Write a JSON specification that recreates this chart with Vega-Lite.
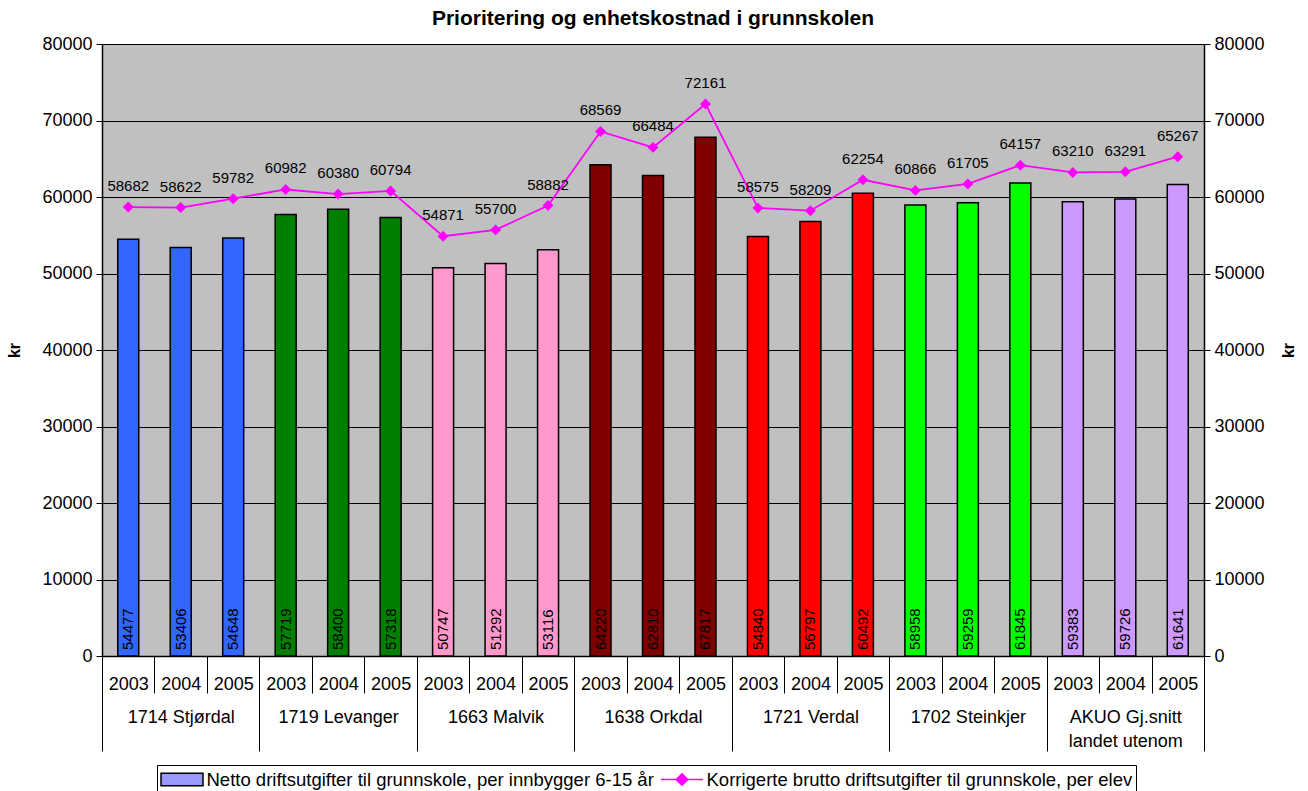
{
  "$schema": "https://vega.github.io/schema/vega-lite/v6.json",
  "autosize": "none",
  "width": 1102,
  "height": 612,
  "padding": {"left": 102, "top": 44, "right": 104, "bottom": 135},
  "background": "white",
  "config": {
    "font": "Liberation Sans",
    "view": {"fill": "#C0C0C0", "stroke": "#808080", "strokeWidth": 1}
  },
  "title": {
    "text": "Prioritering og enhetskostnad i grunnskolen",
    "fontSize": 21,
    "fontWeight": "bold",
    "font": "Liberation Sans",
    "color": "#000000",
    "offset": 6,
    "anchor": "middle"
  },
  "datasets": {
    "main": [
      {"group": "1714 Stjørdal", "year": "2003", "key": "1714 Stjørdal|2003", "netto": 54477, "brutto": 58682},
      {"group": "1714 Stjørdal", "year": "2004", "key": "1714 Stjørdal|2004", "netto": 53406, "brutto": 58622},
      {"group": "1714 Stjørdal", "year": "2005", "key": "1714 Stjørdal|2005", "netto": 54648, "brutto": 59782},
      {"group": "1719 Levanger", "year": "2003", "key": "1719 Levanger|2003", "netto": 57719, "brutto": 60982},
      {"group": "1719 Levanger", "year": "2004", "key": "1719 Levanger|2004", "netto": 58400, "brutto": 60380},
      {"group": "1719 Levanger", "year": "2005", "key": "1719 Levanger|2005", "netto": 57318, "brutto": 60794},
      {"group": "1663 Malvik", "year": "2003", "key": "1663 Malvik|2003", "netto": 50747, "brutto": 54871},
      {"group": "1663 Malvik", "year": "2004", "key": "1663 Malvik|2004", "netto": 51292, "brutto": 55700},
      {"group": "1663 Malvik", "year": "2005", "key": "1663 Malvik|2005", "netto": 53116, "brutto": 58882},
      {"group": "1638 Orkdal", "year": "2003", "key": "1638 Orkdal|2003", "netto": 64220, "brutto": 68569},
      {"group": "1638 Orkdal", "year": "2004", "key": "1638 Orkdal|2004", "netto": 62810, "brutto": 66484},
      {"group": "1638 Orkdal", "year": "2005", "key": "1638 Orkdal|2005", "netto": 67817, "brutto": 72161},
      {"group": "1721 Verdal", "year": "2003", "key": "1721 Verdal|2003", "netto": 54840, "brutto": 58575},
      {"group": "1721 Verdal", "year": "2004", "key": "1721 Verdal|2004", "netto": 56797, "brutto": 58209},
      {"group": "1721 Verdal", "year": "2005", "key": "1721 Verdal|2005", "netto": 60492, "brutto": 62254},
      {"group": "1702 Steinkjer", "year": "2003", "key": "1702 Steinkjer|2003", "netto": 58958, "brutto": 60866},
      {"group": "1702 Steinkjer", "year": "2004", "key": "1702 Steinkjer|2004", "netto": 59259, "brutto": 61705},
      {"group": "1702 Steinkjer", "year": "2005", "key": "1702 Steinkjer|2005", "netto": 61845, "brutto": 64157},
      {"group": "AKUO Gj.snitt|landet utenom", "year": "2003", "key": "AKUO|2003", "netto": 59383, "brutto": 63210},
      {"group": "AKUO Gj.snitt|landet utenom", "year": "2004", "key": "AKUO|2004", "netto": 59726, "brutto": 63291},
      {"group": "AKUO Gj.snitt|landet utenom", "year": "2005", "key": "AKUO|2005", "netto": 61641, "brutto": 65267}
    ]
  },
  "data": {"name": "main"},
  "resolve": {"scale": {"x": "independent", "y": "independent"}},
  "layer": [
    {
      "encoding": {
        "x": {
          "field": "key",
          "type": "nominal",
          "sort": null,
          "scale": {"paddingInner": 0, "paddingOuter": 0},
          "axis": {
            "orient": "bottom",
            "title": null,
            "labelExpr": "split(datum.label, '|')[1]",
            "labelAngle": 0,
            "labelFontSize": 18,
            "labelColor": "#000000",
            "labelPadding": -18,
            "labelOverlap": false,
            "labelBound": false,
            "tickBand": "extent",
            "tickSize": 37,
            "tickColor": "#000000",
            "tickWidth": 1,
            "domainColor": "#000000",
            "domainWidth": 1.5,
            "grid": false
          }
        }
      },
      "layer": [
        {
          "mark": {"type": "bar", "width": {"band": 0.4}, "stroke": "#000000", "strokeWidth": 1.5},
          "encoding": {
            "y": {
              "field": "netto",
              "type": "quantitative",
              "scale": {"domain": [0, 80000], "nice": false},
              "axis": {
                "orient": "left",
                "values": [0, 10000, 20000, 30000, 40000, 50000, 60000, 70000, 80000],
                "format": "d",
                "labelFontSize": 18,
                "labelColor": "#000000",
                "labelPadding": 4,
                "tickSize": 6,
                "tickColor": "#000000",
                "domainColor": "#000000",
                "domainWidth": 1.5,
                "grid": true,
                "gridColor": "#000000",
                "gridWidth": 1,
                "title": "kr",
                "titleFontSize": 16,
                "titleFontWeight": "bold",
                "titleColor": "#000000",
                "titleAngle": 270,
                "titleX": -88,
                "titleY": 306,
                "titleAlign": "center",
                "titleBaseline": "middle"
              }
            },
            "fill": {
              "field": "group",
              "type": "nominal",
              "sort": null,
              "scale": {"range": ["#3366FF", "#008000", "#FF99CC", "#800000", "#FF0000", "#00FF00", "#CC99FF"]},
              "legend": null
            }
          }
        },
        {
          "mark": {"type": "text", "angle": 270, "align": "left", "baseline": "middle", "dx": 6, "fontSize": 15, "color": "#000000"},
          "encoding": {
            "y": {"datum": 0, "type": "quantitative"},
            "text": {"field": "netto", "type": "quantitative", "format": "d"}
          }
        },
        {
          "mark": {"type": "line", "strokeWidth": 1.8},
          "encoding": {
            "y": {"field": "brutto", "type": "quantitative"},
            "color": {
              "datum": "Korrigerte brutto driftsutgifter til grunnskole, per elev",
              "type": "nominal",
              "scale": {
                "domain": ["Netto driftsutgifter til grunnskole, per innbygger 6-15 år", "Korrigerte brutto driftsutgifter til grunnskole, per elev"],
                "range": ["#000000", "#FF00FF"]
              },
              "legend": {
                "title": null,
                "orient": "none",
                "legendX": 55,
                "legendY": 721,
                "direction": "horizontal",
                "columns": 2,
                "columnPadding": 4,
                "labelFontSize": 18.5,
                "labelColor": "#000000",
                "labelLimit": 700,
                "labelOffset": 13,
                "symbolOffset": 10.5,
                "strokeColor": "#000000",
                "fillColor": "#FFFFFF",
                "padding": 3,
                "symbolSize": 441,
                "symbolStrokeWidth": 1.5,
                "encode": {
                  "symbols": {
                    "update": {
                      "shape": {"signal": "datum.value === 'Korrigerte brutto driftsutgifter til grunnskole, per elev' ? 'M-2,0H2M0,-0.55L0.55,0L0,0.55L-0.55,0Z' : 'M-2,-0.6H2V0.6H-2Z'"},
                      "fill": {"signal": "datum.value === 'Korrigerte brutto driftsutgifter til grunnskole, per elev' ? '#FF00FF' : '#9999FF'"},
                      "stroke": {"signal": "datum.value === 'Korrigerte brutto driftsutgifter til grunnskole, per elev' ? '#FF00FF' : '#000000'"},
                      "fillOpacity": {"value": 1},
                      "strokeOpacity": {"value": 1},
                      "strokeWidth": {"value": 1.5}
                    }
                  }
                }
              }
            }
          }
        },
        {
          "mark": {"type": "point", "shape": "diamond", "filled": true, "size": 120, "opacity": 1, "color": "#FF00FF"},
          "encoding": {
            "y": {"field": "brutto", "type": "quantitative"}
          }
        },
        {
          "mark": {"type": "text", "baseline": "bottom", "align": "center", "dy": -13, "fontSize": 15, "color": "#000000"},
          "encoding": {
            "y": {"field": "brutto", "type": "quantitative"},
            "text": {"field": "brutto", "type": "quantitative", "format": "d"}
          }
        }
      ]
    },
    {
      "mark": {"type": "rule", "opacity": 0},
      "encoding": {
        "x": {
          "field": "group",
          "type": "nominal",
          "sort": null,
          "scale": {"paddingInner": 0, "paddingOuter": 0},
          "axis": {
            "orient": "bottom",
            "title": null,
            "labelExpr": "split(datum.label, '|')",
            "labelAngle": 0,
            "labelFontSize": 18,
            "labelColor": "#000000",
            "labelLineHeight": 24,
            "labelPadding": -43,
            "labelOverlap": false,
            "labelBound": false,
            "tickBand": "extent",
            "tickSize": 95,
            "tickColor": "#000000",
            "tickWidth": 1,
            "domain": false,
            "grid": false
          }
        }
      }
    },
    {
      "mark": {"type": "rule", "opacity": 0},
      "encoding": {
        "y": {
          "field": "brutto",
          "type": "quantitative",
          "scale": {"domain": [0, 80000], "nice": false},
          "axis": {
            "orient": "right",
            "values": [0, 10000, 20000, 30000, 40000, 50000, 60000, 70000, 80000],
            "format": "d",
            "labelFontSize": 18,
            "labelColor": "#000000",
            "labelPadding": 4,
            "tickSize": 6,
            "tickColor": "#000000",
            "domainColor": "#000000",
            "domainWidth": 1.5,
            "grid": false,
            "title": "kr",
            "titleFontSize": 16,
            "titleFontWeight": "bold",
            "titleColor": "#000000",
            "titleAngle": 270,
            "titleX": 84,
            "titleY": 306,
            "titleAlign": "center",
            "titleBaseline": "middle"
          }
        }
      }
    }
  ]
}
